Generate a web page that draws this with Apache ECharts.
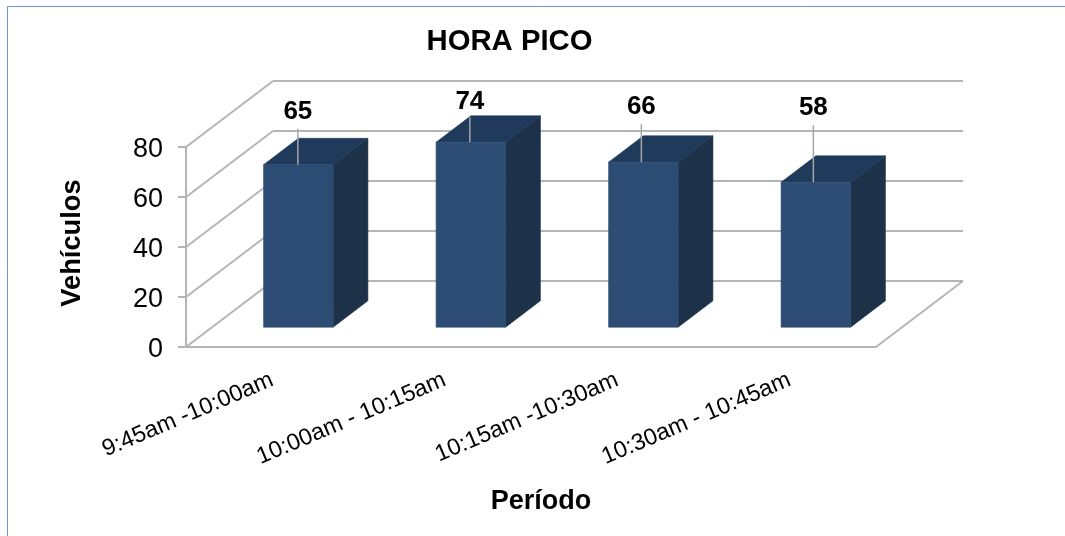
<!DOCTYPE html>
<html>
<head>
<meta charset="utf-8">
<style>html,body{margin:0;padding:0;background:#fff}#chart{width:1065px;height:536px}</style>
<script src="https://cdn.jsdelivr.net/npm/echarts@6/dist/echarts.min.js"></script>
</head>
<body>
<div id="chart"></div>
<script>
// Vehicle counts per quarter hour during the peak hour
const periods = ['9:45am -10:00am', '10:00am - 10:15am', '10:15am -10:30am', '10:30am - 10:45am'];
const vehicles = [65, 74, 66, 58];
const yTicks = [0, 20, 40, 60, 80];
const titleText = 'HORA PICO';
const xName = 'Período';
const yName = 'Vehículos';

// Oblique projection used for the fake 3D box
const DEPTH_X = 87, DEPTH_Y = 66;
const BAR_NEAR = 0.3, BAR_FAR = 0.7, BAR_WIDTH = 0.403;
// Hand-placed value labels: leader rise above the bar's front edge, sideways nudge, gap to the text
const LEADER_RISE = [36, 25, 38, 57];
const LEADER_NUDGE = [-0.5, -1, -2, -2.5];
const LABEL_GAP = [4, 2, 4, 4];

const WALL = '#b5b5b5', FONT = '"Liberation Sans", Arial, sans-serif';

function line(x1, y1, x2, y2) {
  return { type: 'line', shape: { x1, y1, x2, y2 }, style: { stroke: WALL, lineWidth: 2, fill: null } };
}

function renderWall(params, api) {
  const cs = params.coordSys;
  const y = api.coord([0, api.value(1)])[1];
  const left = cs.x, right = cs.x + cs.width;
  const children = [
    line(left, y, left + DEPTH_X, y - DEPTH_Y),
    line(left + DEPTH_X, y - DEPTH_Y, right + DEPTH_X, y - DEPTH_Y)
  ];
  if (api.value(1) === 0) children.push(line(right, y, right + DEPTH_X, y - DEPTH_Y));
  return { type: 'group', silent: true, children };
}

function poly(points, fill) {
  return { type: 'polygon', shape: { points }, style: { fill, stroke: fill, lineWidth: 0.6 } };
}

function renderBar(params, api) {
  const i = api.value(0), v = api.value(1);
  const base = api.coord([i, 0]);
  const top = api.coord([i, v]);
  const w = api.size([1, 0])[0] * BAR_WIDTH;
  const cx = base[0] + BAR_NEAR * DEPTH_X;
  const shiftY = BAR_NEAR * DEPTH_Y;
  const x0 = cx - w / 2, x1 = cx + w / 2;
  const yb = base[1] - shiftY, yt = top[1] - shiftY;
  const dx = (BAR_FAR - BAR_NEAR) * DEPTH_X, dy = (BAR_FAR - BAR_NEAR) * DEPTH_Y;
  const rise = LEADER_RISE[params.dataIndex];
  const lx = cx + LEADER_NUDGE[params.dataIndex];
  return {
    type: 'group',
    children: [
      poly([[x1, yb], [x1 + dx, yb - dy], [x1 + dx, yt - dy], [x1, yt]], '#1d3149'),
      poly([[x0, yt], [x1, yt], [x1 + dx, yt - dy], [x0 + dx, yt - dy]], '#203a5b'),
      poly([[x0, yb], [x1, yb], [x1, yt], [x0, yt]], '#2c4c74'),
      { type: 'line', shape: { x1: lx, y1: yt, x2: lx, y2: yt - rise }, style: { stroke: '#a6a6a6', lineWidth: 1.5 } },
      {
        type: 'text',
        style: {
          x: lx, y: yt - rise - LABEL_GAP[params.dataIndex],
          text: String(v),
          fill: '#000', font: 'bold 26px ' + FONT,
          align: 'center', verticalAlign: 'bottom'
        }
      }
    ]
  };
}

const chart = echarts.init(document.getElementById('chart'), null, { renderer: 'canvas' });
chart.setOption({
  animation: false,
  backgroundColor: '#fff',
  title: {
    text: titleText, left: 504.5, top: 22, textAlign: 'center',
    textStyle: { fontFamily: FONT, fontWeight: 'bold', fontSize: 29.3, color: '#000' }
  },
  graphic: [{
    type: 'rect', z: -1, silent: true,
    shape: { x: 7.5, y: 6.5, width: 1200, height: 700 },
    style: { fill: 'none', stroke: '#6a97cf', lineWidth: 1 }
  }],
  grid: { left: 186, right: 189, top: 147, bottom: 189 },
  xAxis: {
    type: 'category',
    data: periods,
    name: xName,
    nameLocation: 'middle',
    nameGap: 141,
    nameTextStyle: { fontFamily: FONT, fontWeight: 'bold', fontSize: 27, color: '#000', padding: [0, 0, 0, 20] },
    axisLine: { lineStyle: { color: WALL, width: 2 } },
    axisTick: { show: false },
    axisLabel: {
      interval: 0, rotate: 23, margin: 32,
      fontFamily: FONT, fontSize: 23.4, color: '#000'
    }
  },
  yAxis: {
    type: 'value',
    min: 0, max: 80, interval: 20,
    name: yName,
    nameLocation: 'middle',
    nameGap: 100,
    nameRotate: 90,
    nameTextStyle: { fontFamily: FONT, fontWeight: 'bold', fontSize: 27.3, color: '#000', padding: [0, 0, 0, 8] },
    axisLine: { show: true, lineStyle: { color: WALL, width: 2 } },
    axisTick: { show: true, length: 8, lineStyle: { color: WALL, width: 2 } },
    axisLabel: {
      margin: 23,
      formatter: '{t|{value}}',
      rich: { t: { fontFamily: FONT, fontSize: 27, color: '#000', padding: [6, 0, 0, 0] } }
    },
    splitLine: { show: false }
  },
  series: [
    {
      type: 'custom', name: 'walls', z: 1, silent: true,
      renderItem: renderWall,
      data: yTicks.map(t => [0, t]),
      encode: { x: 0, y: 1 }
    },
    {
      type: 'custom', name: yName, z: 2, silent: true,
      renderItem: renderBar,
      data: vehicles.map((v, i) => [i, v]),
      encode: { x: 0, y: 1 }
    }
  ]
});
</script>
</body>
</html>
